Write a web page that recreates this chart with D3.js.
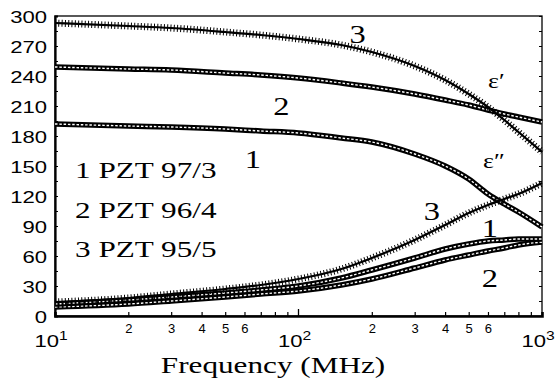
<!DOCTYPE html>
<html>
<head>
<meta charset="utf-8">
<script src="https://cdn.jsdelivr.net/npm/d3@7/dist/d3.min.js"></script>
<style>
  body { margin: 0; background: #fff; }
  .serif { font-family: 'Liberation Serif', 'Times New Roman', serif; }
  .sans { font-family: 'Liberation Sans', Arial, sans-serif; }
</style>
</head>
<body>
<svg id="chart" width="556" height="390"></svg>
<script>
// frequency points (MHz)
const freq = [10, 20, 30, 50, 70, 100, 150, 200, 300, 400, 500, 600, 700, 800, 1000];

// real part eps'
const epsReal1 = [192, 190, 189, 187, 185, 183, 178, 174, 162, 150, 137, 122, 112, 104, 89];
const epsReal2 = [249, 247, 246, 243, 241, 238, 233, 229, 222, 216, 211, 206, 202, 199, 194];
const epsReal3 = [293, 290, 288, 284, 281, 277, 271, 264, 250, 236, 222, 209, 196, 184, 164];

// imaginary part eps''
const epsImag1 = [12, 16, 19, 23, 26, 30, 38, 46, 58, 67, 72, 75, 76, 77, 77];
const epsImag2 = [9, 12, 15, 19, 22, 25, 31, 37, 48, 56, 61, 65, 68, 71, 74];
const epsImag3 = [14, 18, 22, 27, 31, 37, 47, 58, 76, 91, 103, 111, 117, 122, 133];

const yTicks = [0, 30, 60, 90, 120, 150, 180, 210, 240, 270, 300];
const xMinorTicks = [20, 30, 40, 50, 60, 70, 80, 90, 200, 300, 400, 500, 600, 700, 800, 900];
const xMajorTicks = [10, 100, 1000];
const xMajorLabels = ['1', '2', '3'];

const legendItems = ['1 PZT 97/3', '2 PZT 96/4', '3 PZT 95/5'];
const legendRows = [138, 98, 59];

// curve annotations, in data coordinates
const curveNotes = [
  { t: '3', f: 175, v: 273 },
  { t: '2', f: 85, v: 201 },
  { t: '1', f: 65, v: 148 },
  { t: '3', f: 353, v: 96 },
  { t: '1', f: 611, v: 79 },
  { t: '2', f: 611, v: 29 }
];
const epsNotes = [
  { t: 'ε\u2032', f: 600, v: 228 },
  { t: 'ε\u2033', f: 573, v: 148 }
];

const SX = 1.3; // the scanned figure is stretched sideways

const svg = d3.select('#chart');
const x = d3.scaleLog().domain([10, 1000]).range([55, 542]);
const y = d3.scaleLinear().domain([0, 300]).range([316, 16]);

function label(px, py, str, size, cls, anchor) {
  return svg.append('text')
    .attr('class', cls)
    .attr('transform', 'translate(' + px + ',' + py + ') scale(' + SX + ',1)')
    .attr('text-anchor', anchor || 'start')
    .attr('font-size', size)
    .attr('fill', '#000')
    .text(str);
}

// frame
svg.append('rect')
  .attr('x', x(10)).attr('y', y(300))
  .attr('width', x(1000) - x(10)).attr('height', y(0) - y(300))
  .attr('fill', 'none').attr('stroke', '#000').attr('stroke-width', 1.3);

// bottom axis, ticks point inwards
const xAxis = svg.append('g')
  .attr('transform', 'translate(0,' + y(0) + ')')
  .call(d3.axisBottom(x).tickValues(xMinorTicks).tickSize(-4).tickPadding(8)
    .tickFormat(function(d) {
      const lead = Math.round(d / Math.pow(10, Math.floor(Math.log10(d))));
      return lead <= 6 ? lead : '';
    }));
xAxis.select('.domain').attr('stroke-width', 2.6);
xAxis.selectAll('.tick line').attr('stroke-width', 1.2);
xAxis.selectAll('.tick text').attr('class', 'sans')
  .attr('font-size', 13).attr('fill', '#000');
xAxis.attr('font-family', null);

svg.append('line')
  .attr('x1', x(100)).attr('x2', x(100))
  .attr('y1', y(0)).attr('y2', y(0) - 7)
  .attr('stroke', '#000').attr('stroke-width', 1.3);

// left axis
const yAxis = svg.append('g')
  .attr('transform', 'translate(' + x(10) + ',0)')
  .call(d3.axisLeft(y).tickValues(d3.range(0, 301, 15)).tickSize(-3).tickFormat(''));
yAxis.select('.domain').attr('stroke-width', 2.2);

// right axis ticks
svg.append('g')
  .attr('transform', 'translate(' + x(1000) + ',0)')
  .call(d3.axisRight(y).tickValues(d3.range(0, 301, 15)).tickSize(-3).tickFormat(''))
  .select('.domain').remove();

yTicks.forEach(function(d) {
  label(47, y(d) + 7, d, 17, 'sans', 'end');
});

xMajorTicks.forEach(function(d, i) {
  const t = label(x(d) - 4, 347, '10', 17, 'sans', 'middle');
  t.append('tspan').attr('font-size', 12).attr('dy', -7).text(xMajorLabels[i]);
});

label(273, 373, 'Frequency (MHz)', 24, 'serif', 'middle');

// curves
const line = d3.line()
  .x(function(d) { return x(d.f); })
  .y(function(d) { return y(d.v); })
  .curve(d3.curveMonotoneX);

function pts(vals) {
  return freq.map(function(f, i) { return { f: f, v: vals[i] }; });
}

function squareCurve(vals) {
  const d = line(pts(vals));
  svg.append('path').attr('d', d).attr('fill', 'none')
    .attr('stroke', '#000').attr('stroke-width', 5.5);
  svg.append('path').attr('d', d).attr('fill', 'none')
    .attr('stroke', '#fff').attr('stroke-width', 1.4)
    .attr('stroke-dasharray', '2.5,1.8');
}

function crossCurve(vals) {
  const d = line(pts(vals));
  svg.append('path').attr('d', d).attr('fill', 'none')
    .attr('stroke', '#000').attr('stroke-width', 2.2);
  svg.append('path').attr('d', d).attr('fill', 'none')
    .attr('stroke', '#000').attr('stroke-width', 7)
    .attr('stroke-dasharray', '1,2.3');
}

squareCurve(epsReal1);
squareCurve(epsReal2);
crossCurve(epsReal3);
squareCurve(epsImag2);
squareCurve(epsImag1);
crossCurve(epsImag3);

// annotations
curveNotes.forEach(function(n) {
  label(x(n.f), y(n.v), n.t, 25, 'serif', 'middle');
});
epsNotes.forEach(function(n) {
  label(x(n.f), y(n.v), n.t, 20, 'serif', 'start');
});

legendItems.forEach(function(s, i) {
  label(75, y(legendRows[i]), s, 24, 'serif', 'start');
});
</script>
</body>
</html>
